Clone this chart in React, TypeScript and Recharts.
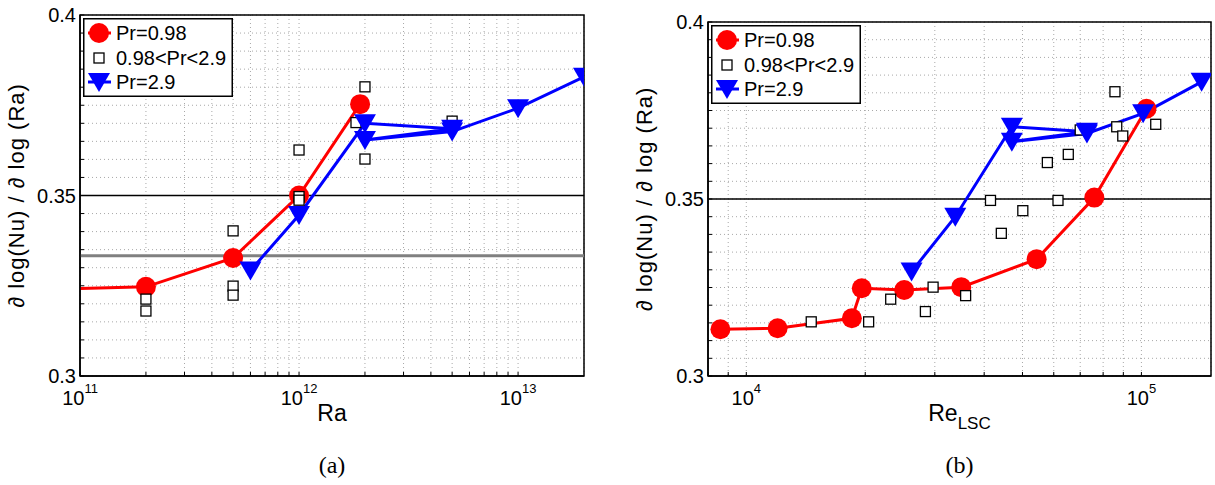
import React from 'react';
import { ComposedChart, Line, XAxis, YAxis, CartesianGrid, ReferenceLine, ReferenceArea, Legend } from 'recharts';

const FONT = '"Liberation Sans", Arial, Helvetica, sans-serif';
const RED = '#ff0000';
const BLUE = '#0000ff';

// ---- panel (a): d log(Nu) / d log(Ra) vs Ra
const raRed = [5e10, 2e11, 5e11, 1e12, 1.9e12];
const slopeRaRed = [0.3238, 0.3247, 0.3327, 0.35, 0.3753];

const raBlue = [6e11, 1e12, 2e12, 5e12, 2e12, 5e12, 1e13, 2e13];
const slopeRaBlue = [0.3292, 0.3446, 0.370, 0.3685, 0.3654, 0.3677, 0.3742, 0.3829];

const raMid = [2e11, 2e11, 5e11, 5e11, 5e11, 1e12, 1e12, 1e12, 1.82e12, 2e12, 2e12, 5e12];
const slopeRaMid = [0.3213, 0.318, 0.3402, 0.3249, 0.3224, 0.3626, 0.3497, 0.3487, 0.3702, 0.3801, 0.3601, 0.3706];

const raDomain = [1e11, 2e13];
const raTicks = [1e11, 2e11, 3e11, 4e11, 5e11, 6e11, 7e11, 8e11, 9e11, 1e12, 2e12, 3e12, 4e12, 5e12, 6e12, 7e12, 8e12, 9e12, 1e13];
const raDecades = [1e11, 1e12, 1e13];
const raExponents = ['11', '12', '13'];

// ---- panel (b): d log(Nu) / d log(Ra) vs Re_LSC
const reRed = [8.6e3, 1.2e4, 1.85e4, 1.96e4, 2.51e4, 3.5e4, 5.43e4, 7.6e4, 1.03e5];
const slopeReRed = [0.3132, 0.3135, 0.3163, 0.3248, 0.3243, 0.3251, 0.333, 0.3504, 0.3755];

const reBlue = [2.62e4, 3.38e4, 4.7e4, 7.28e4, 4.7e4, 7.28e4, 1.01e5, 1.42e5];
const slopeReBlue = [0.3295, 0.345, 0.3704, 0.369, 0.3662, 0.3685, 0.3742, 0.3831];

const reMid = [1.46e4, 2.04e4, 2.32e4, 2.84e4, 2.97e4, 3.59e4, 4.15e4, 4.42e4, 5.01e4, 5.78e4, 6.15e4, 6.53e4, 7.0e4, 8.57e4, 8.66e4, 8.97e4, 1.087e5];
const slopeReMid = [0.3153, 0.3153, 0.3217, 0.3182, 0.3251, 0.3227, 0.3496, 0.3403, 0.3467, 0.3603, 0.3496, 0.3626, 0.3695, 0.3803, 0.3704, 0.3678, 0.3711];

const reDomain = [8e3, 1.5e5];
const reTicks = [8e3, 9e3, 1e4, 2e4, 3e4, 4e4, 5e4, 6e4, 7e4, 8e4, 9e4, 1e5];
const reDecades = [1e4, 1e5];
const reExponents = ['4', '5'];

// ---- shared y axis
const slopeDomain = [0.3, 0.4];
const slopeTicks = [0.3, 0.305, 0.31, 0.315, 0.32, 0.325, 0.33, 0.335, 0.34, 0.345, 0.35, 0.355, 0.36, 0.365, 0.37, 0.375, 0.38, 0.385, 0.39, 0.395, 0.4];
const slopeLabelValues = [0.3, 0.35, 0.4];
const slopeLabelTexts = ['0.3', '0.35', '0.4'];
const refSlope = 0.35;
const oneThird = 0.3333;

const zip = (xs: number[], ys: number[]) => xs.map((x, i) => ({ x, y: ys[i] }));

const RedDot = (p: any) => {
  if (p.cx == null || p.cy == null) return <g key={p.key} />;
  return <circle key={p.key} cx={p.cx} cy={p.cy} r={10} fill={RED} />;
};

const BlueTri = (p: any) => {
  if (p.cx == null || p.cy == null) return <g key={p.key} />;
  const { cx, cy } = p;
  return <polygon key={p.key} points={`${cx - 11},${cy - 9} ${cx + 11},${cy - 9} ${cx},${cy + 10}`} fill={BLUE} />;
};

const SquareDot = (p: any) => {
  if (p.cx == null || p.cy == null) return <g key={p.key} />;
  return <rect key={p.key} x={p.cx - 5} y={p.cy - 5} width={10} height={10} fill="#fff" stroke="#000" strokeWidth={1.3} />;
};

const LogTick = (p: any) => {
  const { x, y, payload, decades, exps } = p;
  const i = decades.findIndex((d: number) => Math.abs(d - payload.value) / d < 1e-6);
  return (
    <g>
      <line x1={x} x2={x} y1={y} y2={y - 4} stroke="#000" />
      {i >= 0 && (
        <text x={x} y={y + 29} textAnchor="middle" fontSize={20} fontFamily={FONT} fill="#000">
          10<tspan dy={-12} fontSize={13}>{exps[i]}</tspan>
        </text>
      )}
    </g>
  );
};

const SlopeTick = (p: any) => {
  const { x, y, payload } = p;
  const i = slopeLabelValues.findIndex((v) => Math.abs(v - payload.value) < 1e-9);
  return (
    <g>
      <line x1={x} x2={x + 4} y1={y} y2={y} stroke="#000" />
      {i >= 0 && (
        <text x={x - 4} y={y + 7} textAnchor="end" fontSize={20} fontFamily={FONT} fill="#000">
          {slopeLabelTexts[i]}
        </text>
      )}
    </g>
  );
};

const YTitle = (p: any) => {
  const vb = p.viewBox;
  const cy = vb.y + vb.height / 2;
  return (
    <text transform={`translate(${p.tx},${cy}) rotate(-90)`} textAnchor="middle" fontSize={22} letterSpacing={1} fontFamily={FONT} fill="#000">
      <tspan fontStyle="italic">∂</tspan> log(Nu) / <tspan fontStyle="italic">∂</tspan> log (Ra)
    </text>
  );
};

const XTitle = (p: any) => {
  const vb = p.viewBox;
  const cx = vb.x + vb.width / 2;
  return (
    <g>
      <text x={cx} y={421} textAnchor="middle" fontSize={23} fontFamily={FONT} fill="#000">
        {p.main}
        {p.sub && <tspan dy={8} fontSize={17}>{p.sub}</tspan>}
      </text>
      <text x={cx} y={473} textAnchor="middle" fontSize={24} fontFamily='"Liberation Serif", "Times New Roman", serif' fill="#000">
        {p.caption}
      </text>
    </g>
  );
};

const LegendBox = () => (
  <svg width={150} height={79} style={{ display: 'block' }}>
    <rect x={0.75} y={0.75} width={148.5} height={77.5} fill="#fff" stroke="#000" strokeWidth={1.5} />
    <line x1={5} x2={28} y1={15} y2={15} stroke={RED} strokeWidth={3} />
    <circle cx={16} cy={15} r={10} fill={RED} />
    <text x={33} y={22} fontSize={20} fontFamily={FONT}>Pr=0.98</text>
    <rect x={11} y={35} width={10} height={10} fill="#fff" stroke="#000" strokeWidth={1.3} />
    <text x={33} y={47} fontSize={20} fontFamily={FONT}>0.98&lt;Pr&lt;2.9</text>
    <line x1={5} x2={28} y1={64} y2={64} stroke={BLUE} strokeWidth={3} />
    <polygon points="5,55 27,55 16,74" fill={BLUE} />
    <text x={33} y={71} fontSize={20} fontFamily={FONT}>Pr=2.9</text>
  </svg>
);

interface PanelProps {
  width: number;
  margin: { top: number; right: number; bottom: number; left: number };
  domain: number[];
  ticks: number[];
  decades: number[];
  exps: string[];
  red: { x: number; y: number }[];
  blue: { x: number; y: number }[];
  mid: { x: number; y: number }[];
  showThird: boolean;
  legendPos: { left: number; top: number };
  yTitleX: number;
  xMain: string;
  xSub?: string;
  caption: string;
}

function Panel(props: PanelProps) {
  const { domain } = props;
  return (
    <ComposedChart width={props.width} height={485} margin={props.margin}>
      <CartesianGrid stroke="#a8a8a8" strokeDasharray="1 3" />
      <XAxis
        dataKey="x"
        type="number"
        scale="log"
        domain={domain}
        allowDataOverflow
        ticks={props.ticks}
        interval={0}
        height={40}
        tickLine={false}
        tickSize={0}
        tickMargin={0}
        axisLine={{ stroke: '#000', strokeWidth: 1.5 }}
        tick={(p: any) => <LogTick {...p} decades={props.decades} exps={props.exps} />}
        label={{ content: (p: any) => <XTitle {...p} main={props.xMain} sub={props.xSub} caption={props.caption} /> }}
      />
      <YAxis
        type="number"
        domain={slopeDomain}
        allowDataOverflow
        ticks={slopeTicks}
        interval={0}
        width={70}
        tickLine={false}
        tickSize={0}
        tickMargin={0}
        axisLine={{ stroke: '#000', strokeWidth: 1.5 }}
        tick={(p: any) => <SlopeTick {...p} />}
        label={{ content: (p: any) => <YTitle {...p} tx={props.yTitleX} /> }}
      />
      <ReferenceLine y={refSlope} stroke="#000" strokeWidth={1.5} />
      {props.showThird && <ReferenceLine y={oneThird} stroke="#808080" strokeWidth={3} />}
      <Line data={props.red} dataKey="y" name="Pr=0.98" stroke={RED} strokeWidth={3} dot={RedDot} activeDot={false} isAnimationActive={false} />
      <Line data={props.mid} dataKey="y" name="0.98<Pr<2.9" stroke="none" dot={SquareDot} activeDot={false} isAnimationActive={false} />
      <Line data={props.blue} dataKey="y" name="Pr=2.9" stroke={BLUE} strokeWidth={3} dot={BlueTri} activeDot={false} isAnimationActive={false} />
      <ReferenceArea x1={domain[0]} x2={domain[1]} y1={slopeDomain[0]} y2={slopeDomain[1]} fill="none" stroke="#000" strokeWidth={1.5} ifOverflow="visible" />
      <Legend
        layout="horizontal"
        verticalAlign="middle"
        align="center"
        width={150}
        height={79}
        wrapperStyle={{ left: props.legendPos.left, top: props.legendPos.top }}
        content={() => <LegendBox />}
      />
    </ComposedChart>
  );
}

export default function App() {
  return (
    <div style={{ position: 'fixed', left: 0, top: 0, width: 1215, height: 485, background: '#fff' }}>
      <div style={{ position: 'absolute', left: 0, top: 0 }}>
        <Panel
          width={600}
          margin={{ top: 15, right: 16, bottom: 69, left: 10 }}
          domain={raDomain}
          ticks={raTicks}
          decades={raDecades}
          exps={raExponents}
          red={zip(raRed, slopeRaRed)}
          blue={zip(raBlue, slopeRaBlue)}
          mid={zip(raMid, slopeRaMid)}
          showThird
          legendPos={{ left: 83, top: 18 }}
          yTitleX={24}
          xMain="Ra"
          caption="(a)"
        />
      </div>
      <div style={{ position: 'absolute', left: 610, top: 0 }}>
        <Panel
          width={605}
          margin={{ top: 22, right: 4, bottom: 69, left: 28 }}
          domain={reDomain}
          ticks={reTicks}
          decades={reDecades}
          exps={reExponents}
          red={zip(reRed, slopeReRed)}
          blue={zip(reBlue, slopeReBlue)}
          mid={zip(reMid, slopeReMid)}
          showThird={false}
          legendPos={{ left: 101, top: 25 }}
          yTitleX={42}
          xMain="Re"
          xSub="LSC"
          caption="(b)"
        />
      </div>
    </div>
  );
}
